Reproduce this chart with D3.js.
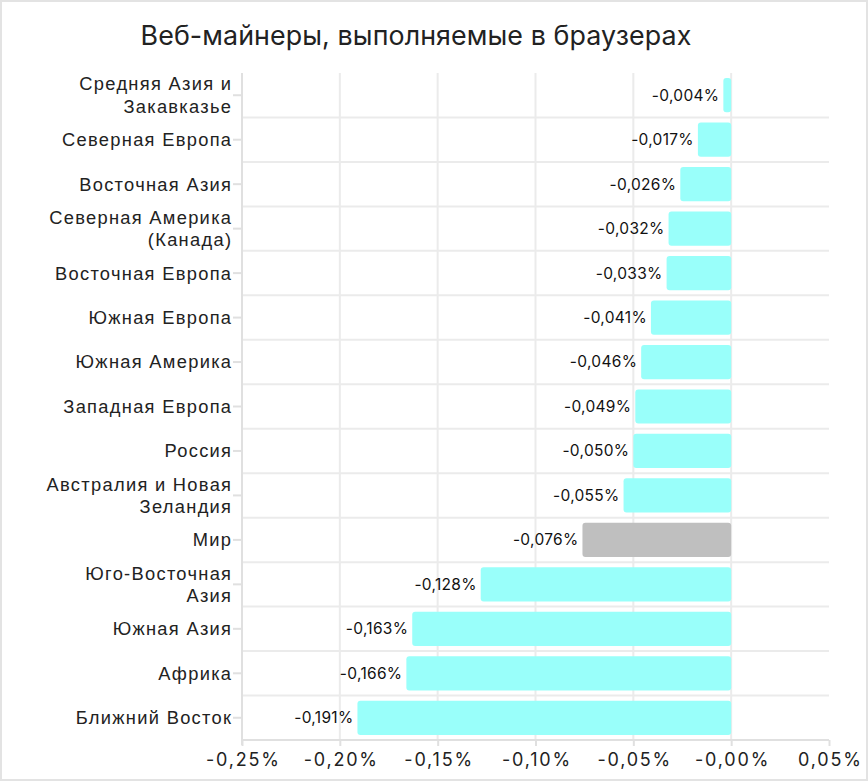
<!DOCTYPE html>
<html>
<head>
<meta charset="utf-8">
<script src="https://cdn.jsdelivr.net/npm/d3@7"></script>
<style>
  body { margin: 0; background: #fff; }
  svg { display: block; font-family: Inter, "Noto Sans", sans-serif; }
</style>
</head>
<body>
<svg id="chart" width="868" height="781"></svg>
<script>
// //////// DATA

const title = "Веб-майнеры, выполняемые в браузерах";

const regions = [
  ["Средняя Азия и", "Закавказье"],
  ["Северная Европа"],
  ["Восточная Азия"],
  ["Северная Америка", "(Канада)"],
  ["Восточная Европа"],
  ["Южная Европа"],
  ["Южная Америка"],
  ["Западная Европа"],
  ["Россия"],
  ["Австралия и Новая", "Зеландия"],
  ["Мир"],
  ["Юго-Восточная", "Азия"],
  ["Южная Азия"],
  ["Африка"],
  ["Ближний Восток"],
];

const values = [
  -0.004, -0.017, -0.026, -0.032, -0.033, -0.041, -0.046, -0.049, -0.05,
  -0.055, -0.076, -0.128, -0.163, -0.166, -0.191,
];

const highlighted = ["Мир"];

const tickValues = [-0.25, -0.2, -0.15, -0.1, -0.05, 0, 0.05];
const tickLabels = ["-0,25%", "-0,20%", "-0,15%", "-0,10%", "-0,05%", "-0,00%", "0,05%"];

// //////// CHART

const svg = d3.select("#chart");
const W = 868, H = 781;
const margin = { top: 73, right: 39, bottom: 40, left: 242 };

// outer frame
svg.append("rect")
  .attr("x", 1).attr("y", 1)
  .attr("width", W - 2).attr("height", H - 2)
  .attr("fill", "#fff")
  .attr("stroke", "#e3e3e3")
  .attr("stroke-width", 2);

svg.append("text")
  .attr("x", 416)
  .attr("y", 45)
  .attr("text-anchor", "middle")
  .attr("font-size", 26.8)
  .attr("letter-spacing", 0.1)
  .attr("fill", "#222")
  .text(title);

const names = regions.map((r) => r.join(" "));

const x = d3.scaleLinear()
  .domain([-0.25, 0.05])
  .range([margin.left, W - margin.right]);

const y = d3.scaleBand()
  .domain(names)
  .range([margin.top, H - margin.bottom - 1])
  .paddingInner(0.23)
  .paddingOuter(0.115);

const gridColor = "#ebebeb";
const bandStep = y.step();

// horizontal separators between categories
const g = svg.append("g");
g.selectAll("line.hgrid")
  .data(names.slice(1))
  .join("line")
  .attr("class", "hgrid")
  .attr("x1", x(-0.25)).attr("x2", x(0.05))
  .attr("y1", (d) => y(d) - y.paddingInner() * bandStep / 2)
  .attr("y2", (d) => y(d) - y.paddingInner() * bandStep / 2)
  .attr("stroke", gridColor)
  .attr("stroke-width", 2);

// vertical grid
const yBottom = H - margin.bottom - 1;
g.selectAll("line.vgrid")
  .data(tickValues.slice(1, -1))
  .join("line")
  .attr("class", "vgrid")
  .attr("x1", (d) => x(d)).attr("x2", (d) => x(d))
  .attr("y1", margin.top).attr("y2", yBottom)
  .attr("stroke", gridColor)
  .attr("stroke-width", 2);

// bars
svg.append("g")
  .selectAll("rect")
  .data(values)
  .join("rect")
  .attr("x", (d) => x(d))
  .attr("y", (d, i) => y(names[i]))
  .attr("width", (d) => x(0) - x(d))
  .attr("height", y.bandwidth())
  .attr("rx", 3)
  .attr("fill", (d, i) => (highlighted.includes(names[i]) ? "#bfbfbf" : "#99fffa"));

// value labels
const fmt = (v) => v.toFixed(3).replace(".", ",") + "%";
svg.append("g")
  .selectAll("text")
  .data(values)
  .join("text")
  .attr("x", (d) => x(d) - 4)
  .attr("y", (d, i) => y(names[i]) + y.bandwidth() / 2)
  .attr("dy", "0.35em")
  .attr("text-anchor", "end")
  .attr("font-size", 15.5)
  .attr("letter-spacing", 0.3)
  .attr("fill", "#111")
  .text(fmt);

// y axis
const yAxis = svg.append("g")
  .attr("transform", `translate(${margin.left},0)`)
  .call(d3.axisLeft(y).tickSize(9).tickPadding(5).tickFormat(""));
yAxis.select(".domain")
  .attr("d", `M0,${margin.top}V${yBottom + 5}`)
  .attr("stroke", "#e0e0e0").attr("stroke-width", 2);
yAxis.selectAll(".tick line").attr("stroke", "#e0e0e0").attr("stroke-width", 2);

yAxis.selectAll(".tick")
  .append("text")
  .attr("fill", "#222")
  .attr("font-size", 18.3)
  .attr("letter-spacing", 1.3)
  .attr("text-anchor", "end")
  .each(function (d) {
    const lines = regions[names.indexOf(d)];
    const t = d3.select(this);
    const lh = 22.5;
    const start = -((lines.length - 1) * lh) / 2;
    lines.forEach((l, i) => {
      t.append("tspan")
        .attr("x", -9.7)
        .attr("y", start + i * lh)
        .attr("dy", "0.35em")
        .text(l);
    });
  });

// x axis
const xAxis = svg.append("g")
  .attr("transform", `translate(0,${yBottom})`)
  .call(
    d3.axisBottom(x)
      .tickValues(tickValues)
      .tickSize(6)
      .tickPadding(7)
      .tickFormat((d, i) => tickLabels[i])
  );
xAxis.select(".domain").attr("stroke", "#e0e0e0").attr("stroke-width", 2)
  .attr("d", `M${x(-0.25)},0H${x(0.05)}`);
xAxis.selectAll(".tick line").attr("stroke", "#e0e0e0").attr("stroke-width", 2);
xAxis.selectAll(".tick text")
  .attr("fill", "#222")
  .attr("font-size", 18)
  .attr("letter-spacing", 1.8)
  .attr("dx", 0.9)
  .attr("font-family", "Inter, sans-serif");
</script>
</body>
</html>
